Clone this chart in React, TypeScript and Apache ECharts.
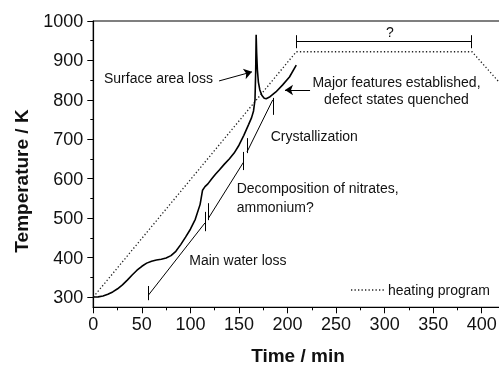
import React, { useEffect, useRef } from "react";
import * as echarts from "echarts";

// Measured curve (time / min, temperature / K)
const mainTime = [0, 5, 10, 15, 20, 25, 30, 35, 40, 45, 50, 55, 60, 65, 70, 75, 80, 85, 90, 95, 100, 105, 110, 112.5, 115, 118, 122, 126, 130, 135, 140, 145, 150, 155, 160, 163, 165, 166.5, 167.2, 167.7, 168.2, 169, 170, 171.5, 173.5, 176, 178, 182, 188, 195, 202, 209];
const mainTemp = [300, 300.5, 302.5, 307, 313, 321, 331, 343, 356, 368, 378, 386, 391, 394, 396, 399, 405, 416, 433, 452, 472, 497, 535, 571, 580, 587, 600, 612, 623, 637, 650, 665, 685, 710, 738, 755, 772, 800, 870, 965, 920, 875, 845, 825, 812, 804, 803, 808, 820, 838, 858, 888];

// Heating program
const programTime = [0, 209, 390, 450];
const programTemp = [300, 922, 922, 756];

// Axis ticks
const yLabelValues = [300, 400, 500, 600, 700, 800, 900, 1000];
const yMinorValues = [350, 450, 550, 650, 750, 850, 950];

// Annotation segments [t1, T1, t2, T2]
const waterLossSeg = [56.8, 305, 115.0, 488];
const waterLossTicks = [[56.8, 328, 56.8, 292], [115.0, 516, 115.0, 467]];
const decompSeg = [118.6, 500, 154.7, 642];
const decompTicks = [[118.6, 538, 118.6, 495], [154.7, 668, 154.7, 622]];
const crystSeg = [158.3, 668, 184.8, 800];
const crystTicks = [[158.3, 703, 158.3, 665], [184.8, 805, 184.8, 762]];
const surfaceArrow = [129.5, 848, 163.4, 871];
const majorArrow = [223.2, 825, 197.4, 825];
const holdBracket = [209.5, 947.5, 389.7, 947.5];
const holdTicks = [[209.5, 964, 209.5, 931], [389.7, 964, 389.7, 931]];

const FONT = '"Liberation Sans", Arial, Helvetica, sans-serif';

function seg(s: number[], arrow = false) {
  return [
    { coord: [s[0], s[1]], symbol: "none" },
    arrow
      ? { coord: [s[2], s[3]], symbol: "arrow", symbolSize: 8 }
      : { coord: [s[2], s[3]], symbol: "none" },
  ];
}

export default function App() {
  const ref = useRef<HTMLDivElement>(null);
  useEffect(() => {
    if (!ref.current) return;
    const chart = echarts.init(ref.current, undefined, { renderer: "svg" });
    const mainData = mainTime.map((t, i) => [t, mainTemp[i]]);
    const progData = programTime.map((t, i) => [t, programTemp[i]]);
    const markData: any[] = [
      seg(waterLossSeg), ...waterLossTicks.map((s) => seg(s)),
      seg(decompSeg), ...decompTicks.map((s) => seg(s)),
      seg(crystSeg), ...crystTicks.map((s) => seg(s)),
      seg(surfaceArrow, true), seg(majorArrow, true),
      seg(holdBracket), ...holdTicks.map((s) => seg(s)),
    ];
    const textStyle = (extra: any) => ({
      fontFamily: FONT,
      fontSize: 14,
      fill: "#111",
      ...extra,
    });
    chart.setOption({
      animation: false,
      grid: {
        left: 93.3,
        top: 21,
        width: 437,
        height: 286.3,
        show: true,
        borderColor: "#000",
        borderWidth: 1.2,
        backgroundColor: "transparent",
        containLabel: false,
        outerBoundsMode: "none",
      },
      xAxis: {
        type: "value",
        min: 0,
        max: 450,
        interval: 50,
        axisLine: { show: true, lineStyle: { color: "#000", width: 1.2 } },
        axisTick: { show: true, inside: false, length: 6, lineStyle: { color: "#000", width: 1 } },
        minorTick: { show: true, splitNumber: 2, length: 3, lineStyle: { color: "#000", width: 1 } },
        axisLabel: {
          fontFamily: FONT, fontSize: 18, color: "#111", margin: 8,
          showMaxLabel: false, hideOverlap: false,
          formatter: (v: number) => String(v),
        },
        splitLine: { show: false },
        minorSplitLine: { show: false },
      },
      yAxis: [
        {
          type: "value",
          min: 274,
          max: 1000,
          axisLine: { show: true, lineStyle: { color: "#000", width: 1.2 } },
          axisTick: { show: true, inside: false, length: 6, customValues: yLabelValues, lineStyle: { color: "#000", width: 1 } },
          axisLabel: {
            fontFamily: FONT, fontSize: 18, color: "#111", margin: 10,
            customValues: yLabelValues,
            formatter: (v: number) => String(v),
          },
          splitLine: { show: false },
        },
        {
          type: "value",
          min: 274,
          max: 1000,
          position: "left",
          offset: 0,
          axisLine: { show: false },
          axisTick: { show: true, inside: false, length: 3, customValues: yMinorValues, lineStyle: { color: "#000", width: 1 } },
          axisLabel: { show: false },
          splitLine: { show: false },
        },
      ],
      series: [
        {
          name: "heating program",
          type: "line",
          data: progData,
          showSymbol: false,
          symbol: "none",
          silent: true,
          lineStyle: { color: "#222", width: 1.3, type: [1.3, 2.2] },
        },
        {
          name: "measured",
          type: "line",
          data: mainData,
          showSymbol: false,
          symbol: "none",
          silent: true,
          lineStyle: { color: "#000", width: 1.6 },
          markLine: {
            silent: true,
            animation: false,
            label: { show: false },
            lineStyle: { color: "#000", width: 1, type: "solid" },
            emphasis: { disabled: true },
            data: markData,
          },
        },
      ],
      graphic: [
        { type: "text", x: 21, y: 181, rotation: Math.PI / 2, style: textStyle({ text: "Temperature / K", fontSize: 19, fontWeight: "bold", align: "center", verticalAlign: "middle" }) },
        { type: "text", x: 298, y: 355, style: textStyle({ text: "Time / min", fontSize: 19, fontWeight: "bold", align: "center", verticalAlign: "middle" }) },
        { type: "text", x: 104, y: 78, style: textStyle({ text: "Surface area loss", align: "left", verticalAlign: "middle" }) },
        { type: "text", x: 396.5, y: 81.7, style: textStyle({ text: "Major features established,", align: "center", verticalAlign: "middle" }) },
        { type: "text", x: 396.5, y: 99, style: textStyle({ text: "defect states quenched", align: "center", verticalAlign: "middle" }) },
        { type: "text", x: 270.7, y: 136, style: textStyle({ text: "Crystallization", align: "left", verticalAlign: "middle" }) },
        { type: "text", x: 236.7, y: 188.3, style: textStyle({ text: "Decomposition of nitrates,", align: "left", verticalAlign: "middle" }) },
        { type: "text", x: 236.7, y: 206.7, style: textStyle({ text: "ammonium?", align: "left", verticalAlign: "middle" }) },
        { type: "text", x: 189.3, y: 260, style: textStyle({ text: "Main water loss", align: "left", verticalAlign: "middle" }) },
        { type: "text", x: 390, y: 32, style: textStyle({ text: "?", align: "center", verticalAlign: "middle" }) },
        { type: "line", shape: { x1: 351, y1: 290, x2: 384, y2: 290 }, style: { stroke: "#222", lineWidth: 1.3, lineDash: [1.3, 2.2] } },
        { type: "text", x: 388, y: 290, style: textStyle({ text: "heating program", align: "left", verticalAlign: "middle" }) },
      ],
    });
    return () => chart.dispose();
  }, []);
  return <div ref={ref} style={{ position: "fixed", left: 0, top: 0, width: 499, height: 365 }} />;
}
